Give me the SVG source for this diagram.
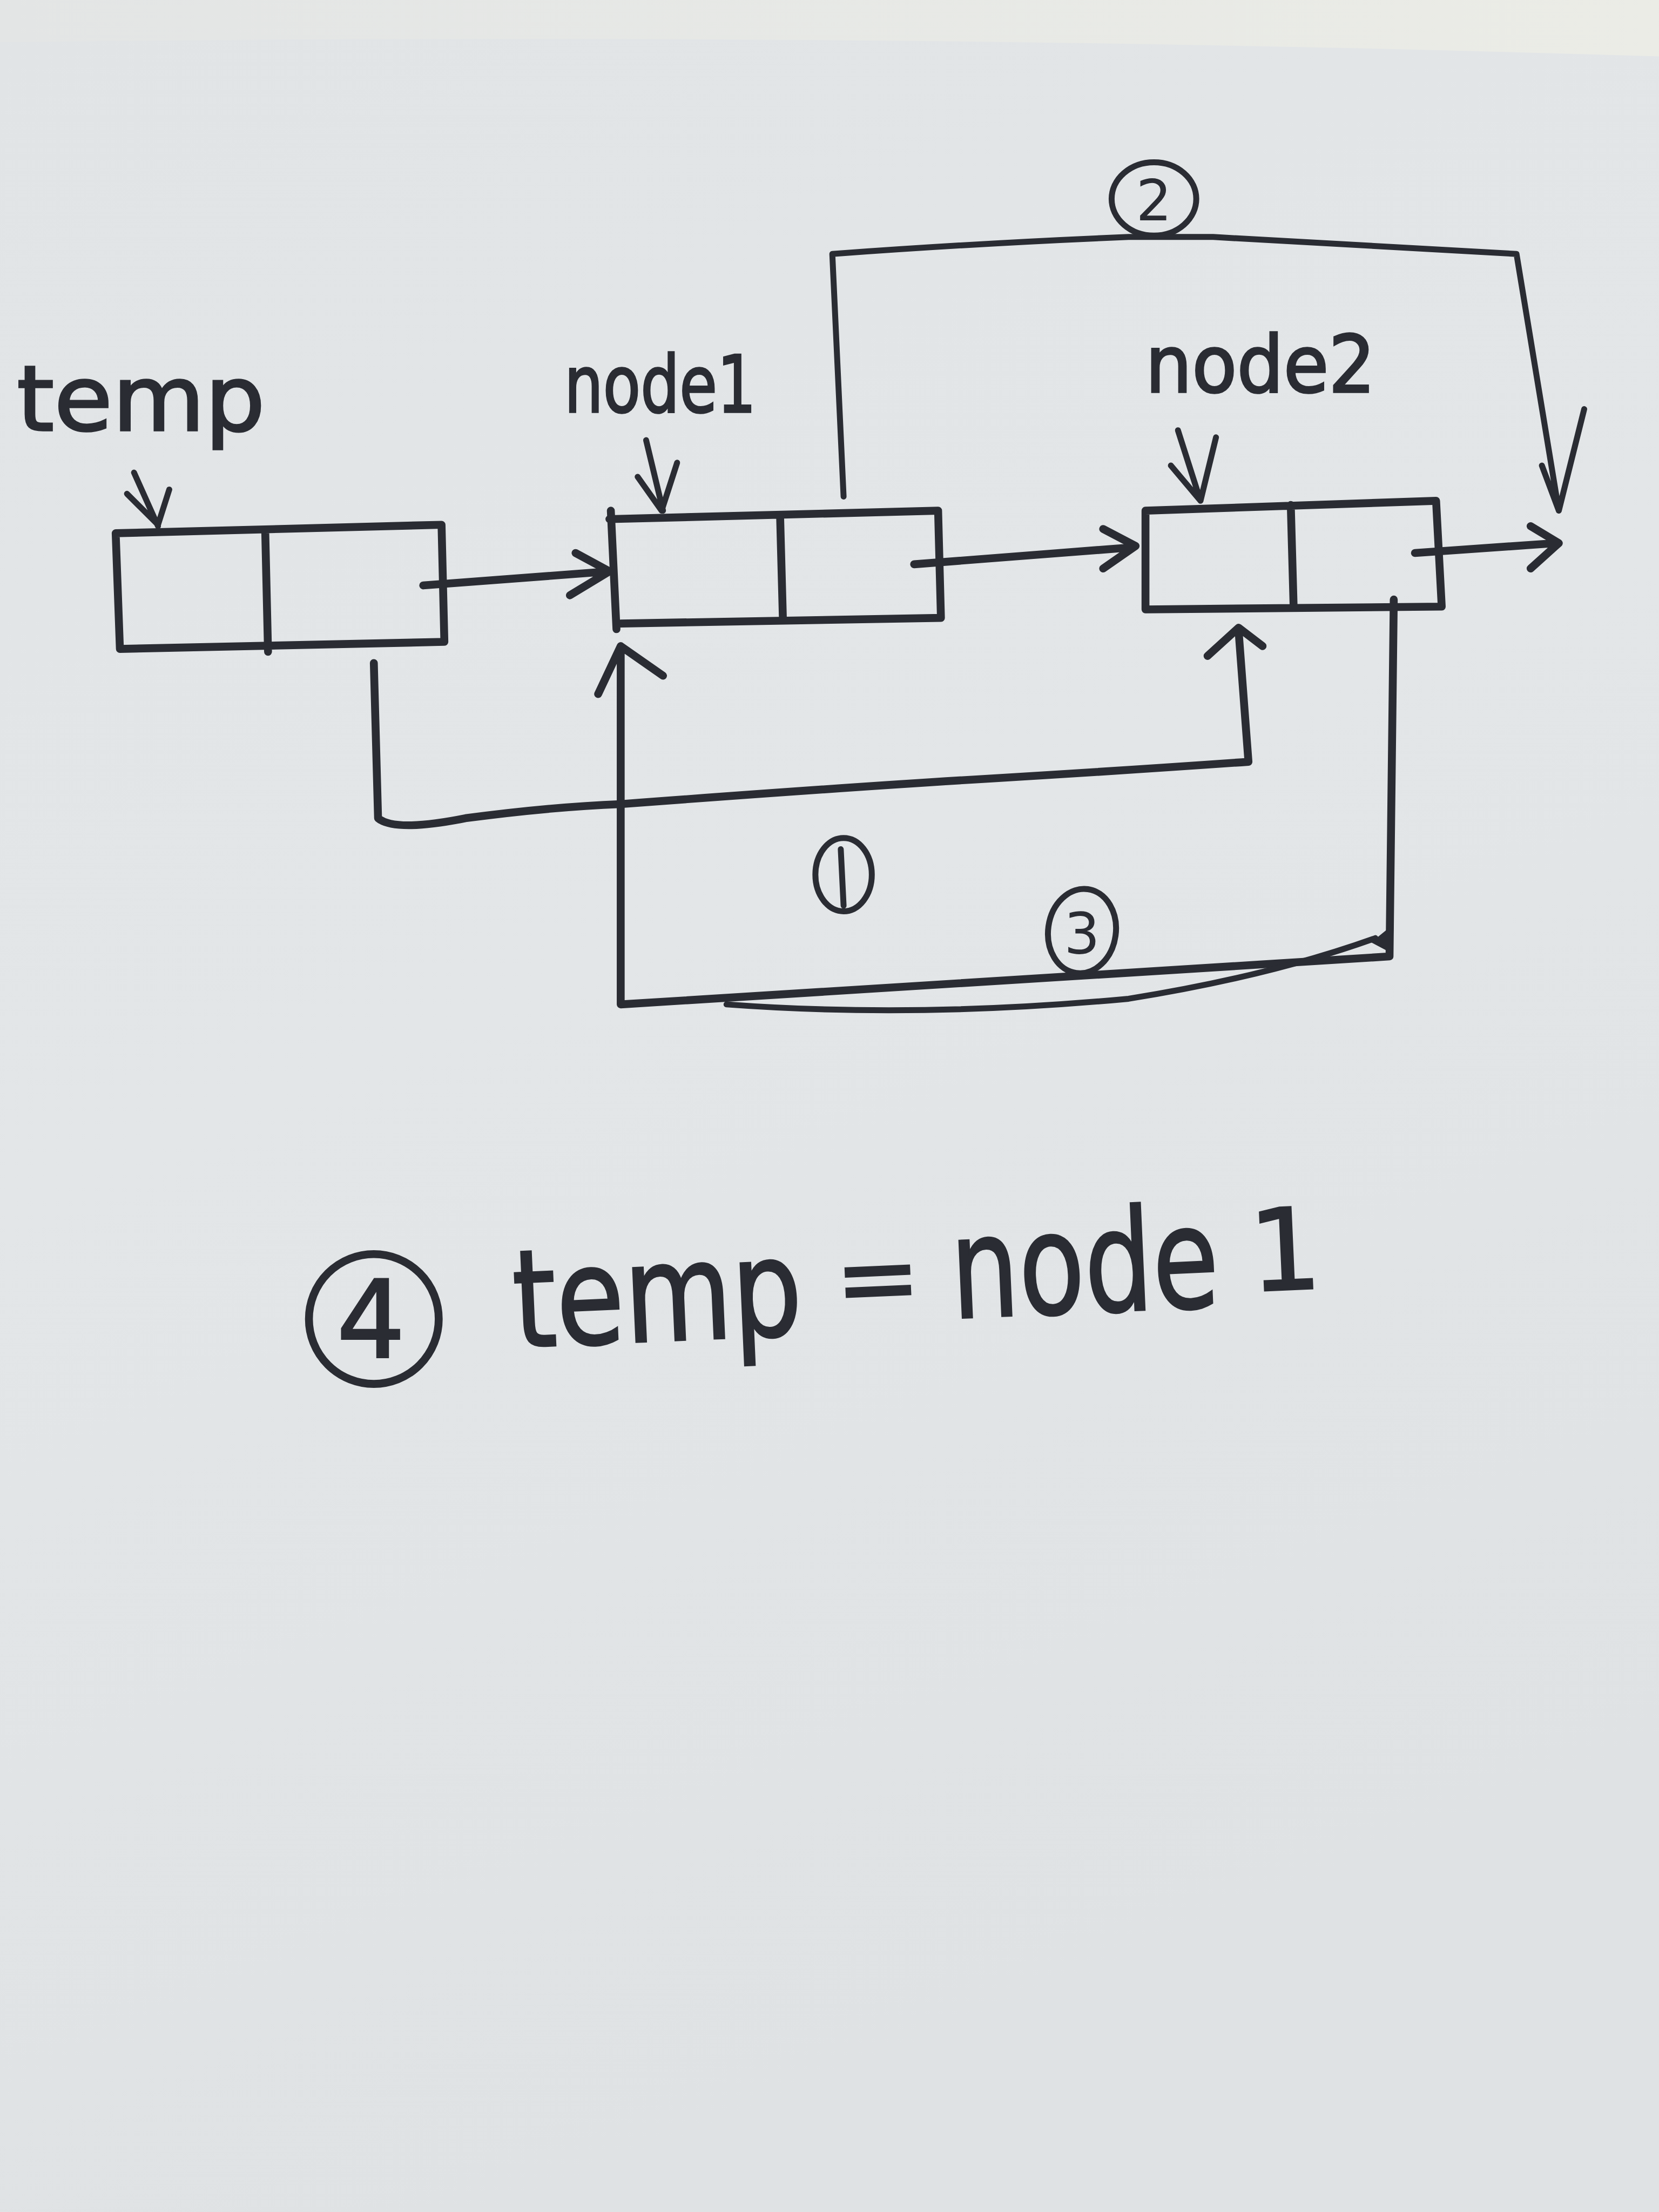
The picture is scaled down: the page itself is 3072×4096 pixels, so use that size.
<svg xmlns="http://www.w3.org/2000/svg" width="3072" height="4096" viewBox="0 0 3072 4096">
<defs>
<linearGradient id="paper" x1="0" y1="0" x2="0.3" y2="1">
<stop offset="0" stop-color="#e1e4e6"/>
<stop offset="0.5" stop-color="#e3e6e8"/>
<stop offset="1" stop-color="#dfe2e4"/>
</linearGradient>
<linearGradient id="topband" x1="0" y1="0" x2="1" y2="0">
<stop offset="0" stop-color="#e3e5e5"/>
<stop offset="1" stop-color="#ebece6"/>
</linearGradient>
<style>
.ink{fill:none;stroke:#2a2c33;stroke-width:5.6;stroke-linecap:round;stroke-linejoin:round}
.thin{stroke-width:4.2}
.hw{font-family:"DejaVu Sans","Liberation Sans",sans-serif;fill:#2a2c33;stroke:#2a2c33;stroke-width:1.4}
.num{font-family:"DejaVu Sans","Liberation Sans",sans-serif;fill:#2a2c33;text-anchor:middle}
</style>
</defs>
<rect width="3072" height="4096" fill="url(#paper)"/>
<g transform="scale(2.6122)">
<path d="M0,0 H1176 V40 Q600,22 0,30 Z" fill="url(#topband)"/>

<g id="node-temp">
<text class="hw" x="12" y="305" font-size="64" textLength="176" lengthAdjust="spacingAndGlyphs">temp</text>
<path class="ink thin" d="M95,335 L112,373 M90,350 L112,372 L120,347"/>
<path class="ink" d="M82,378 L313,372 L315,455 L85,460 Z M188,376 L190,462"/>
</g>

<g id="node-node1">
<text class="hw" x="400" y="292" font-size="56" textLength="136" lengthAdjust="spacingAndGlyphs">node1</text>
<path class="ink thin" d="M458,312 L470,362 M452,338 L469,362 L480,328"/>
<path class="ink" d="M432,368 L665,362 L667,438 L440,442 M433,362 L437,446 M553,366 L555,440"/>
</g>

<g id="node-node2">
<text class="hw" x="812" y="278" font-size="56" textLength="163" lengthAdjust="spacingAndGlyphs">node2</text>
<path class="ink thin" d="M835,305 L851,355 M830,330 L851,355 L862,310"/>
<path class="ink" d="M812,362 L1018,355 L1022,430 L812,432 Z M915,358 L917,430"/>
</g>

<g id="connectors">
<path class="ink" d="M300,415 L432,405 M408,392 L432,405 L404,422"/>
<path class="ink" d="M648,400 L803,388 M782,375 L805,387 L782,403"/>
<path class="ink" d="M1003,392 L1103,385 M1085,373 L1105,385 L1085,403"/>
<path class="ink thin" d="M598,352 L590,180 Q700,172 800,168 L860,168 L1075,180 L1105,362 M1093,330 L1105,362 L1123,290"/>
<path class="ink" d="M265,470 L268,580 Q280,590 330,580 Q390,572 440,570 Q600,558 700,552 Q800,546 885,540 L878,447 M856,465 L878,445 L895,458"/>
<path class="ink" d="M988,425 L985,678 L440,712 L440,460 M424,492 L440,458 L470,479"/>
<path class="ink thin" d="M975,665 Q900,692 800,708 Q650,722 515,712"/>
<path d="M972,668 L988,655 L987,676 Z" fill="#2a2c33"/>
</g>

<g id="label-1">
<ellipse class="ink thin" cx="598" cy="620" rx="20" ry="26"/>
<path class="ink thin" d="M596,602 L598,642"/>
</g>
<g id="label-2">
<ellipse class="ink thin" cx="818" cy="141" rx="30" ry="26"/>
<text class="num" x="818" y="156" font-size="40">2</text>
</g>
<g id="label-3">
<ellipse class="ink thin" cx="767" cy="660" rx="24" ry="30" transform="rotate(8 767 660)"/>
<text class="num" x="767" y="676" font-size="40">3</text>
</g>

<g id="label-4">
<ellipse class="ink" cx="265" cy="935" rx="46" ry="46"/>
<text class="num" x="263" y="962" font-size="76" stroke="#2a2c33" stroke-width="1.5">4</text>
<g transform="rotate(-2.5 365 955)">
<text class="hw" x="365" y="955" font-size="96" textLength="205" lengthAdjust="spacingAndGlyphs" stroke-width="1.8">temp</text>
<text class="hw" x="594" y="942" font-size="72" stroke-width="1.8">=</text>
<text class="hw" x="676" y="948" font-size="100" textLength="190" lengthAdjust="spacingAndGlyphs" stroke-width="1.8">node</text>
<text class="hw" x="888" y="938" font-size="80" stroke-width="1.8">1</text>
</g>
</g>
</g>
</svg>
